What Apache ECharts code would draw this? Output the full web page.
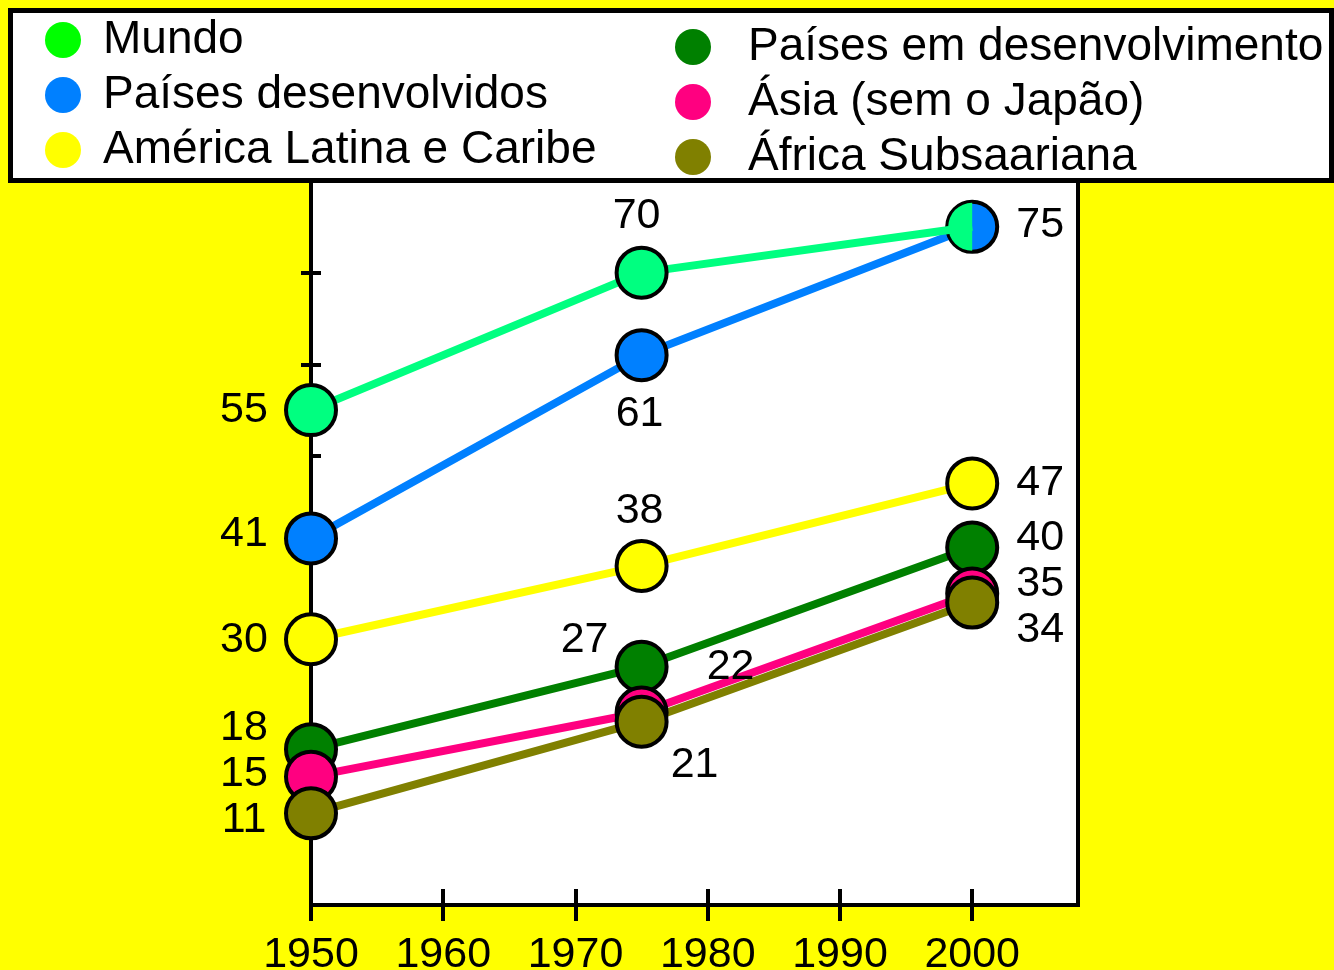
<!DOCTYPE html>
<html>
<head>
<meta charset="utf-8">
<script src="https://cdn.jsdelivr.net/npm/echarts@6/dist/echarts.min.js"></script>
<style>
  html, body { margin: 0; padding: 0; background: #ffff00; }
  #chart { width: 1334px; height: 970px; }
</style>
</head>
<body>
<div id="chart"></div>
<script>
// data
const years = [1950, 1975, 2000];
const mundo = [55, 70, 75];
const desenvolvidos = [41, 61, 75];
const americaLatina = [30, 38, 47];
const emDesenvolvimento = [18, 27, 40];
const asia = [15, 22, 35];
const africa = [11, 21, 34];
const xTicks = [1950, 1960, 1970, 1980, 1990, 2000];
const yTicks = [10, 20, 30, 40, 50, 60, 70];

const FONT = "'Liberation Sans', Arial, sans-serif";

// where each value label sits, relative to its marker (null = no label)
const labelOffsets = {
  mundo: [[-67, -3], [-5, -60], null],
  desenvolvidos: [[-67, -7], [-2, 56], [68, -5]],
  americaLatina: [[-67, -2], [-2, -58], [68, -3]],
  emDesenvolvimento: [[-67, -24], [-57, -30], [68, -12]],
  asia: [[-67, -6], [89, -48], [68, -12]],
  africa: [[-67, 4], [53, 40], [68, 25]]
};
const LABEL_NUDGE = 3; // digits sit a bit high with middle alignment

function makeSeries(name, values, color, offsets, z) {
  return {
    name: name,
    type: "line",
    clip: false,
    z: z || 2,
    symbol: "circle",
    symbolSize: 50,
    itemStyle: { color: color, borderColor: "#000", borderWidth: 4 },
    lineStyle: { color: color, width: 8 },
    label: {
      position: "inside",
      color: "#000",
      fontSize: 43,
      fontFamily: FONT
    },
    emphasis: { disabled: true },
    data: values.map((v, i) => ({
      value: [years[i], v],
      label: offsets[i]
        ? { show: true, offset: [offsets[i][0], offsets[i][1] + LABEL_NUDGE] }
        : { show: false }
    }))
  };
}

const chart = echarts.init(document.getElementById("chart"));

const mundoSeries = makeSeries("Mundo", mundo, "#00ff80", labelOffsets.mundo, 3);
// shared point at 2000: left half green over the blue marker
Object.assign(mundoSeries.data[2], {
  symbol: "path://M1 0A1 1 0 0 0 1 2Z",
  symbolSize: [24, 48],
  symbolOffset: [-12, 0],
  itemStyle: { borderWidth: 0 }
});

const legendBase = {
  orient: "vertical",
  padding: 0,
  itemGap: 5,
  itemHeight: 36,
  icon: "circle",
  selectedMode: false,
  z: 20,
  itemStyle: { borderWidth: 0 },
  textStyle: { fontSize: 46, color: "#000", fontFamily: FONT, lineHeight: 50 }
};

const option = {
  animation: false,
  backgroundColor: "#ffff00",
  graphic: [
    {
      type: "rect",
      z: 10,
      shape: { x: 10.5, y: 10.5, width: 1321, height: 170 },
      style: { fill: "#fff", stroke: "#000", lineWidth: 5 }
    }
  ],
  legend: [
    Object.assign({}, legendBase, {
      left: 45,
      top: 15,
      itemWidth: 70,
      data: [
        { name: "Mundo", itemStyle: { color: "#00ff00" } },
        "Países desenvolvidos",
        "América Latina e Caribe"
      ]
    }),
    Object.assign({}, legendBase, {
      left: 675,
      top: 22,
      itemWidth: 100,
      data: ["Países em desenvolvimento", "Ásia (sem o Japão)", "África Subsaariana"]
    })
  ],
  grid: {
    left: 311,
    right: 256,
    top: 181,
    bottom: 65,
    outerBoundsMode: "none",
    containLabel: false,
    show: true,
    backgroundColor: "#fff",
    borderColor: "#000",
    borderWidth: 4
  },
  xAxis: [
    {
      type: "value",
      min: 1950,
      max: 2008,
      position: "bottom",
      axisLine: { show: true, onZero: false, lineStyle: { color: "#000", width: 4 } },
      axisTick: { show: true, inside: false, length: 16, customValues: xTicks, lineStyle: { color: "#000", width: 4 } },
      axisLabel: {
        customValues: xTicks,
        formatter: (v) => String(v),
        margin: 50,
        verticalAlign: "middle",
        fontSize: 43,
        color: "#000",
        fontFamily: FONT
      },
      splitLine: { show: false }
    },
    {
      type: "value",
      min: 1950,
      max: 2008,
      position: "bottom",
      axisLine: { show: false, onZero: false },
      axisTick: { show: true, inside: true, length: 16, customValues: xTicks, lineStyle: { color: "#000", width: 4 } },
      axisLabel: { show: false },
      splitLine: { show: false }
    }
  ],
  yAxis: [
    {
      type: "value",
      min: 1,
      max: 80,
      position: "left",
      axisLine: { show: true, onZero: false, lineStyle: { color: "#000", width: 4 } },
      axisTick: { show: true, inside: true, length: 10, customValues: yTicks, lineStyle: { color: "#000", width: 4 } },
      axisLabel: { show: false },
      splitLine: { show: false }
    },
    {
      type: "value",
      min: 1,
      max: 80,
      position: "left",
      axisLine: { show: false, onZero: false },
      axisTick: { show: true, inside: false, length: 10, customValues: [60, 70], lineStyle: { color: "#000", width: 4 } },
      axisLabel: { show: false },
      splitLine: { show: false }
    }
  ],
  series: [
    makeSeries("Países desenvolvidos", desenvolvidos, "#0080ff", labelOffsets.desenvolvidos),
    mundoSeries,
    makeSeries("América Latina e Caribe", americaLatina, "#ffff00", labelOffsets.americaLatina),
    makeSeries("Países em desenvolvimento", emDesenvolvimento, "#008000", labelOffsets.emDesenvolvimento),
    makeSeries("Ásia (sem o Japão)", asia, "#ff0080", labelOffsets.asia),
    makeSeries("África Subsaariana", africa, "#808000", labelOffsets.africa)
  ]
};

chart.setOption(option);
</script>
</body>
</html>
